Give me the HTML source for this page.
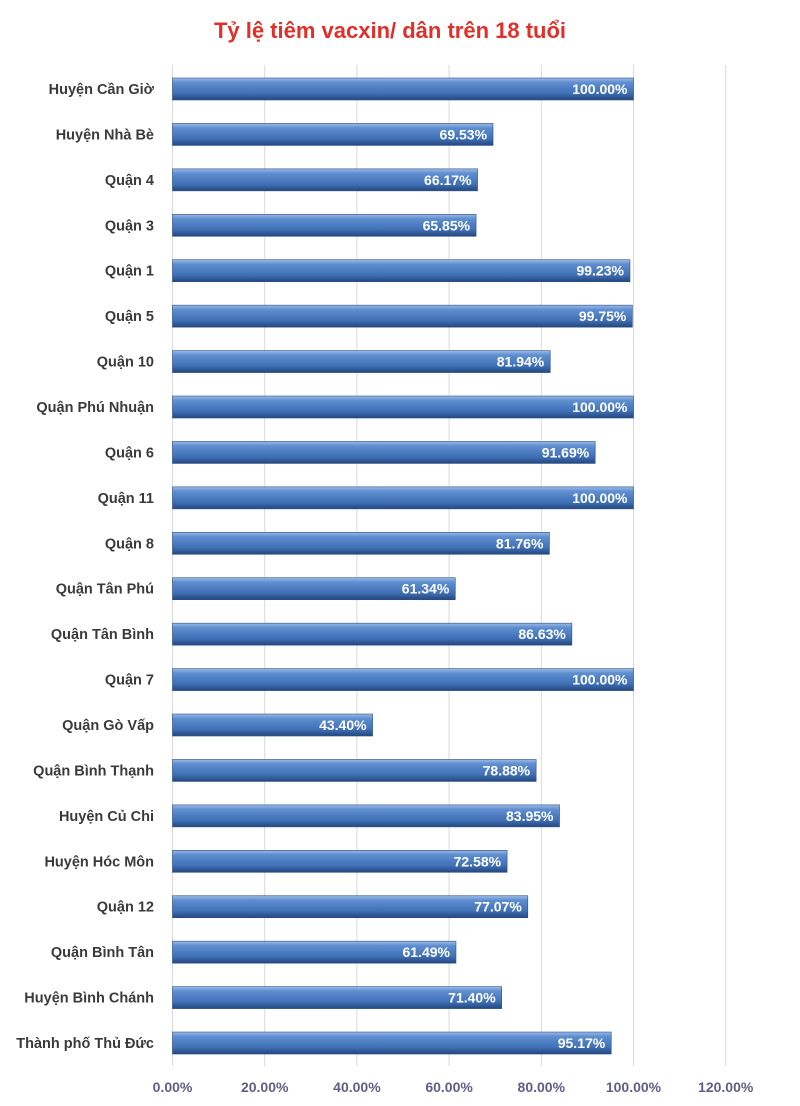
<!DOCTYPE html>
<html><head><meta charset="utf-8"><style>
html,body{margin:0;padding:0;background:#fff;}
svg{display:block;font-family:"Liberation Sans",sans-serif;}
</style></head><body>
<svg id="chart" width="800" height="1106" viewBox="0 0 800 1106">
<defs>
<linearGradient id="barGrad" x1="0" y1="0" x2="0" y2="1">
<stop offset="0" stop-color="#9dbbe6"/>
<stop offset="0.2" stop-color="#5f8fd0"/>
<stop offset="0.7" stop-color="#3f6fb5"/>
<stop offset="1" stop-color="#24477e"/>
</linearGradient>
</defs>
<text x="390" y="38" text-anchor="middle" font-size="22" font-weight="bold" fill="#e0302a">Tỷ lệ tiêm vacxin/ dân trên 18 tuổi</text>
<g id="grid"></g><g id="bars"></g><g id="cats"></g><g id="ticks"></g>
</svg>
<script>
const categories=["Huyện Cần Giờ","Huyện Nhà Bè","Quận 4","Quận 3","Quận 1","Quận 5","Quận 10","Quận Phú Nhuận","Quận 6","Quận 11","Quận 8","Quận Tân Phú","Quận Tân Bình","Quận 7","Quận Gò Vấp","Quận Bình Thạnh","Huyện Củ Chi","Huyện Hóc Môn","Quận 12","Quận Bình Tân","Huyện Bình Chánh","Thành phố Thủ Đức"];
const values=[100.00,69.53,66.17,65.85,99.23,99.75,81.94,100.00,91.69,100.00,81.76,61.34,86.63,100.00,43.40,78.88,83.95,72.58,77.07,61.49,71.40,95.17];
const tickValues=[0,20,40,60,80,100,120];
const tickLabels=["0.00%","20.00%","40.00%","60.00%","80.00%","100.00%","120.00%"];
const NS="http://www.w3.org/2000/svg";
const x0=172.5,pxPer=4.61;
const xs=v=>x0+v*pxPer;
const ys=i=>89+i*45.43;
function mk(t,a,p){const e=document.createElementNS(NS,t);for(const k in a)e.setAttribute(k,a[k]);p.appendChild(e);return e;}
const grid=document.getElementById('grid'),bars=document.getElementById('bars'),cats=document.getElementById('cats'),ticks=document.getElementById('ticks');
tickValues.forEach((v,i)=>{
 const l=mk('line',{x1:xs(v),x2:xs(v),y1:65,y2:1066,stroke:'#d9d9d9','stroke-width':1},grid);
 
 
 const t=mk('text',{x:xs(v),y:1092,'text-anchor':'middle','font-size':14,'font-weight':'bold',fill:'#5f5f86'},ticks);
 t.textContent=tickLabels[i];
 
 
});
categories.forEach((c,i)=>{
 const y=ys(i),w=xs(values[i])-x0;
 const r=mk('rect',{x:x0,y:y-11,width:w,height:22,fill:'url(#barGrad)',stroke:'#2c4f86','stroke-width':0.6},bars);
 
 
 const lt=mk('text',{x:x0+w-6,y:y+5,'text-anchor':'end','font-size':14,'font-weight':'bold',fill:'#fff'},bars);
 lt.textContent=values[i].toFixed(2)+'%';
 
 
 const ct=mk('text',{x:154,y:y+5,'text-anchor':'end','font-size':14.5,'font-weight':'bold',fill:'#3a3a3a'},cats);
 ct.textContent=c;
 
 
});
</script>
</body></html>
